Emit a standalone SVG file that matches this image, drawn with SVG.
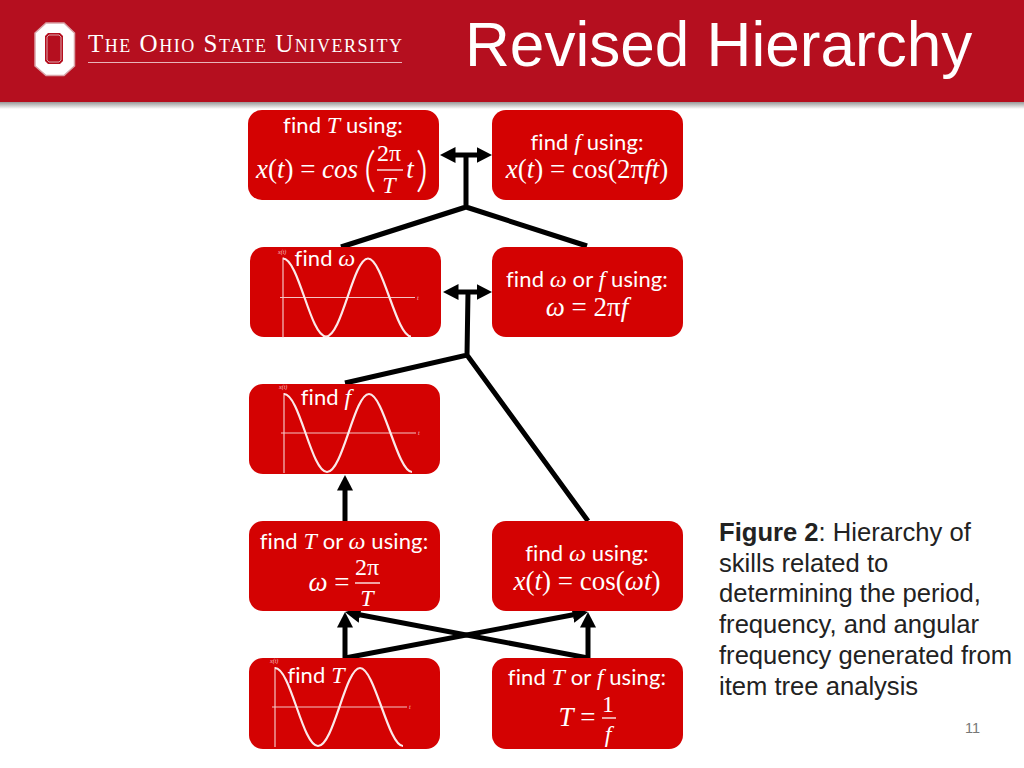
<svg xmlns="http://www.w3.org/2000/svg" width="1024" height="768" viewBox="0 0 1024 768">
<style>
.box{fill:#d40202}
.t{font-family:"Lato","Open Sans","Liberation Sans",sans-serif;font-size:22px;fill:#fff;text-anchor:middle;letter-spacing:.1px}
.m{font-family:"Liberation Serif","DejaVu Serif",serif;font-size:27px;fill:#fff;text-anchor:middle}
.f{font-family:"Liberation Serif","DejaVu Serif",serif;font-size:24px;fill:#fff;text-anchor:middle}
.i{font-family:"Liberation Serif","DejaVu Serif",serif;font-style:italic;font-size:24px}
.m .i{font-size:27px}
.p{font-family:"Lato",sans-serif;font-weight:300;font-size:48px;fill:#fff;text-anchor:middle}
.wave{fill:none;stroke:#fbeaea;stroke-width:2.200}
.axis{fill:none;stroke:#f4c4c4;stroke-width:1.200}
.tiny{font-family:"Liberation Serif",serif;font-style:italic;font-size:6px;fill:#f4c4c4}
.fr{stroke:#fff;stroke-width:1.300}
.c{fill:none;stroke:#000;stroke-width:5}
.cap{font-family:"Liberation Sans",Arial,sans-serif;font-size:25.600px;fill:#222}
</style>
<defs>
<linearGradient id="sh" x1="0" y1="0" x2="0" y2="1"><stop offset="0" stop-color="#999"/><stop offset="1" stop-color="#fff"/></linearGradient>
<marker id="ah" markerUnits="userSpaceOnUse" markerWidth="17" markerHeight="18" refX="0.500" refY="9" orient="auto-start-reverse"><path d="M0 1L15.500 9L0 17Z" fill="#000"/></marker>
<g id="wave">
<path class="axis" d="M0 -40V40M-3 0H132"/>
<path class="wave" d="M0 -39C15.700 -39 27.300 39 43 39S70.300 -39 85 -39S113.300 39 128 39"/>
<text class="tiny" x="-5" y="-44">x(t)</text>
<text class="tiny" x="134" y="2">t</text>
</g>
</defs>
<rect width="1024" height="768" fill="#fff"/>
<g id="header">
<rect y="102" width="1024" height="7" fill="url(#sh)"/>
<rect width="1024" height="102" fill="#b50f1f"/>
<path d="M46 23H64L74.500 33V66L64 75.500H46L35 66V33Z" fill="#fff" stroke="#d9a3a8" stroke-width="1.500"/>
<path d="M48 33H60L63 36V61L60 64H48L45 61V36Z" fill="#b50f1f"/>
<path d="M49 35H59L61 37V60L59 62H49L47 60V37Z" fill="none" stroke="#d9a3a8" stroke-width="1"/>
<text x="88" y="52" font-family="Liberation Serif,serif" font-size="25" font-variant="small-caps" fill="#fff" textLength="314">The Ohio State University</text>
<line x1="88" y1="62.500" x2="402" y2="62.500" stroke="#e8b5ba" stroke-width="1"/>
<text x="465" y="66" font-family="Liberation Sans,Arial,sans-serif" font-size="62.100" fill="#fff">Revised Hierarchy</text>
</g>
<g id="connectors">
<line class="c" x1="455" y1="155" x2="477" y2="155" marker-start="url(#ah)" marker-end="url(#ah)"/>
<path class="c" d="M466 155V207M341 247L466 207L587 246"/>
<line class="c" x1="458" y1="292" x2="477" y2="292" marker-start="url(#ah)" marker-end="url(#ah)"/>
<path class="c" d="M468 292L467 355M345 383L467 355L588 521"/>
<line class="c" x1="345" y1="521" x2="345" y2="490" marker-end="url(#ah)"/>
<line class="c" x1="345" y1="658" x2="345" y2="627" marker-end="url(#ah)"/>
<line class="c" x1="345" y1="658" x2="573.300" y2="614.800" marker-end="url(#ah)"/>
<line class="c" x1="588" y1="658" x2="588" y2="627" marker-end="url(#ah)"/>
<line class="c" x1="588" y1="658" x2="359.700" y2="614.800" marker-end="url(#ah)"/>
</g>
<g id="n1">
<rect class="box" x="248" y="110" width="191" height="90" rx="14"/>
<text class="t" x="343" y="133">find <tspan class="i">T</tspan> using:</text>
<text class="m" x="307" y="178"><tspan class="i">x</tspan>(<tspan class="i">t</tspan>) = <tspan class="i">cos</tspan></text>
<text class="p" x="370" y="186">(</text>
<text class="f" x="389" y="161">2π</text>
<line class="fr" x1="377" y1="170" x2="403" y2="170"/>
<text class="f" x="389" y="193"><tspan class="i">T</tspan></text>
<text class="m" x="410" y="178"><tspan class="i">t</tspan></text>
<text class="p" x="422" y="186">)</text>
</g>
<g id="n2">
<rect class="box" x="492" y="110" width="191" height="90" rx="14"/>
<text class="t" x="587" y="150">find <tspan class="i">f</tspan> using:</text>
<text class="m" x="587" y="178"><tspan class="i">x</tspan>(<tspan class="i">t</tspan>) = cos(2π<tspan class="i">ft</tspan>)</text>
</g>
<g id="n3">
<rect class="box" x="250" y="247" width="191" height="90" rx="14"/>
<use href="#wave" x="283" y="297.500"/>
<text class="t" x="325" y="266">find <tspan class="i">ω</tspan></text>
</g>
<g id="n4">
<rect class="box" x="492" y="247" width="191" height="90" rx="14"/>
<text class="t" x="587" y="287">find <tspan class="i">ω</tspan> or <tspan class="i">f</tspan> using:</text>
<text class="m" x="587" y="316"><tspan class="i">ω</tspan> = 2π<tspan class="i">f</tspan></text>
</g>
<g id="n5">
<rect class="box" x="249" y="384" width="191" height="90" rx="14"/>
<use href="#wave" x="284" y="433"/>
<text class="t" x="326" y="405">find <tspan class="i">f</tspan></text>
</g>
<g id="n6">
<rect class="box" x="249" y="521" width="191" height="90" rx="14"/>
<text class="t" x="344" y="549">find <tspan class="i">T</tspan> or <tspan class="i">ω</tspan> using:</text>
<text class="m" x="329" y="591"><tspan class="i">ω</tspan> =</text>
<text class="f" x="367" y="575">2π</text>
<line class="fr" x1="355" y1="583" x2="380" y2="583"/>
<text class="f" x="367" y="606"><tspan class="i">T</tspan></text>
</g>
<g id="n7">
<rect class="box" x="492" y="521" width="191" height="90" rx="14"/>
<text class="t" x="587" y="561">find <tspan class="i">ω</tspan> using:</text>
<text class="m" x="587" y="590"><tspan class="i">x</tspan>(<tspan class="i">t</tspan>) = cos(<tspan class="i">ωt</tspan>)</text>
</g>
<g id="n8">
<rect class="box" x="249" y="658" width="191" height="91" rx="14"/>
<use href="#wave" x="275" y="707"/>
<text class="t" x="316" y="683">find <tspan class="i">T</tspan></text>
</g>
<g id="n9">
<rect class="box" x="492" y="658" width="191" height="91" rx="14"/>
<text class="t" x="587" y="685">find <tspan class="i">T</tspan> or <tspan class="i">f</tspan> using:</text>
<text class="m" x="577" y="726"><tspan class="i">T</tspan> =</text>
<text class="f" x="608" y="712">1</text>
<line class="fr" x1="602" y1="718" x2="616" y2="718"/>
<text class="f" x="608" y="742"><tspan class="i">f</tspan></text>
</g>
<g id="caption">
<text class="cap" x="719" y="541"><tspan font-weight="bold">Figure 2</tspan>: Hierarchy of</text>
<text class="cap" x="719" y="572">skills related to</text>
<text class="cap" x="719" y="602">determining the period,</text>
<text class="cap" x="719" y="633">frequency, and angular</text>
<text class="cap" x="719" y="664">frequency generated from</text>
<text class="cap" x="719" y="695">item tree analysis</text>
<text x="965" y="733" font-family="Liberation Sans,Arial,sans-serif" font-size="14.500" fill="#777">11</text>
</g>
</svg>
